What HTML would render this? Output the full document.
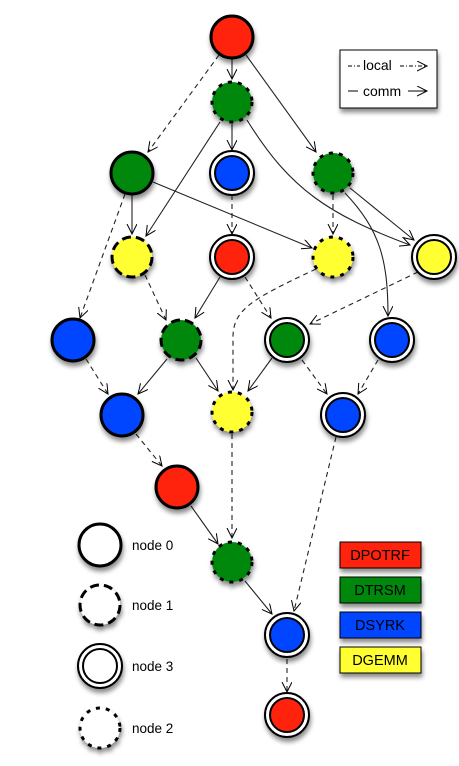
<!DOCTYPE html>
<html><head><style>body{margin:0;background:#fff}svg{display:block}</style></head><body>
<svg width="459" height="766" xmlns="http://www.w3.org/2000/svg" font-family="Liberation Sans, sans-serif">
<defs>
<filter id="sh" x="-50%" y="-50%" width="200%" height="200%"><feDropShadow dx="1" dy="4" stdDeviation="2.5" flood-color="#000" flood-opacity="0.45"/></filter>
<marker id="a" markerWidth="12" markerHeight="12" refX="10" refY="5" orient="auto" markerUnits="userSpaceOnUse"><polyline points="0,0 10,5 0,10" fill="none" stroke="#000" stroke-width="1"/></marker>
</defs>
<g fill="none" stroke="#222" stroke-width="1.1" marker-end="url(#a)">
<path d="M232 59 V79"/>
<path d="M246 55 L316 152"/>
<path d="M232 124 V150"/>
<path d="M220 122 L146 236"/>
<path d="M247 120 C290 190 330 215 410 245"/>
<path d="M132 195 V234"/>
<path d="M153 182 L312 248"/>
<path d="M350 188 L414 240"/>
<path d="M345 193 C380 230 388 260 388 316"/>
<path d="M220 277 L195 318"/>
<path d="M167 359 L138 394"/>
<path d="M196 358 L218 391"/>
<path d="M272 358 L248 391"/>
<path d="M191 506 L218 544"/>
<path d="M245 581 L272 614"/>
</g>
<g fill="none" stroke="#222" stroke-width="1.1" stroke-dasharray="5,4" marker-end="url(#a)">
<path d="M219 55 L148 152"/>
<path d="M125 194 L80 318"/>
<path d="M232 195 V234"/>
<path d="M333 195 V234"/>
<path d="M145 275 L166 320"/>
<path d="M245 277 L271 318"/>
<path d="M316 269 C250 300 232 310 233 340 L233 390"/>
<path d="M418 272 L310 324"/>
<path d="M86 359 L108 394"/>
<path d="M302 360 L327 394"/>
<path d="M378 360 L358 394"/>
<path d="M136 434 L162 466"/>
<path d="M232 434 V538"/>
<path d="M336 437 L294 611"/>
<path d="M287 659 V692"/>
</g>
<g filter="url(#sh)">
<g stroke="#000" stroke-width="3">
<circle cx="232" cy="37" r="21" fill="#f21"/>
<circle cx="132" cy="173" r="21" fill="#081"/>
<circle cx="73" cy="340" r="21" fill="#04f"/>
<circle cx="122" cy="415" r="21" fill="#04f"/>
<circle cx="177" cy="487" r="21" fill="#f21"/>
<circle cx="100" cy="545" r="21" fill="#fff"/>
</g>
<g stroke="#000" stroke-width="3" stroke-dasharray="9,5">
<circle cx="132" cy="257" r="20" fill="#ff3"/>
<circle cx="181" cy="340" r="20" fill="#081"/>
<circle cx="100" cy="605" r="20" fill="#fff"/>
</g>
<g stroke="#000" stroke-width="3" stroke-dasharray="4,6">
<circle cx="232" cy="102" r="20" fill="#081"/>
<circle cx="333" cy="173" r="20" fill="#081"/>
<circle cx="333" cy="257" r="20" fill="#ff3"/>
<circle cx="232" cy="412" r="20" fill="#ff3"/>
<circle cx="232" cy="562" r="20" fill="#081"/>
<circle cx="100" cy="728" r="20" fill="#fff"/>
</g>
<g stroke="#000" stroke-width="2">
<circle cx="232" cy="173" r="22" fill="#fff"/><circle cx="232" cy="173" r="17" fill="#04f"/>
<circle cx="232" cy="257" r="22" fill="#fff"/><circle cx="232" cy="257" r="17" fill="#f21"/>
<circle cx="434" cy="257" r="22" fill="#fff"/><circle cx="434" cy="257" r="17" fill="#ff3"/>
<circle cx="287" cy="340" r="22" fill="#fff"/><circle cx="287" cy="340" r="17" fill="#081"/>
<circle cx="392" cy="340" r="22" fill="#fff"/><circle cx="392" cy="340" r="17" fill="#04f"/>
<circle cx="343" cy="415" r="22" fill="#fff"/><circle cx="343" cy="415" r="17" fill="#04f"/>
<circle cx="287" cy="635" r="22" fill="#fff"/><circle cx="287" cy="635" r="17" fill="#04f"/>
<circle cx="287" cy="715" r="22" fill="#fff"/><circle cx="287" cy="715" r="17" fill="#f21"/>
<circle cx="100" cy="666" r="22" fill="#fff"/><circle cx="100" cy="666" r="17" fill="#fff"/>
</g>
<rect x="340" y="50" width="97" height="58" fill="#fff" stroke="#000" stroke-width="1"/>
<g stroke="#000" stroke-width="1">
<rect x="340" y="542" width="81" height="26" fill="#f21"/>
<rect x="340" y="577" width="81" height="26" fill="#081"/>
<rect x="340" y="612" width="81" height="26" fill="#04f"/>
<rect x="340" y="647" width="81" height="26" fill="#ff3"/>
</g>
</g>
<g stroke="#000" stroke-width="1" fill="none">
<path d="M348 66 H360" stroke-dasharray="4,2,1,2"/>
<path d="M400 66 H427" stroke-dasharray="4,2,1,2" marker-end="url(#a)"/>
<path d="M348 91 H358"/>
<path d="M408 91 H427" marker-end="url(#a)"/>
</g>
<g font-size="14" fill="#000">
<text x="363" y="70">local</text>
<text x="363" y="96">comm</text>
</g>
<g font-size="13.5" fill="#000">
<text x="132" y="550">node 0</text>
<text x="132" y="610">node 1</text>
<text x="132" y="671">node 3</text>
<text x="132" y="733">node 2</text>
</g>
<g font-size="14.5" fill="#000" text-anchor="middle">
<text x="380" y="560">DPOTRF</text>
<text x="380" y="595">DTRSM</text>
<text x="380" y="630">DSYRK</text>
<text x="380" y="665">DGEMM</text>
</g>
</svg>
</body></html>
